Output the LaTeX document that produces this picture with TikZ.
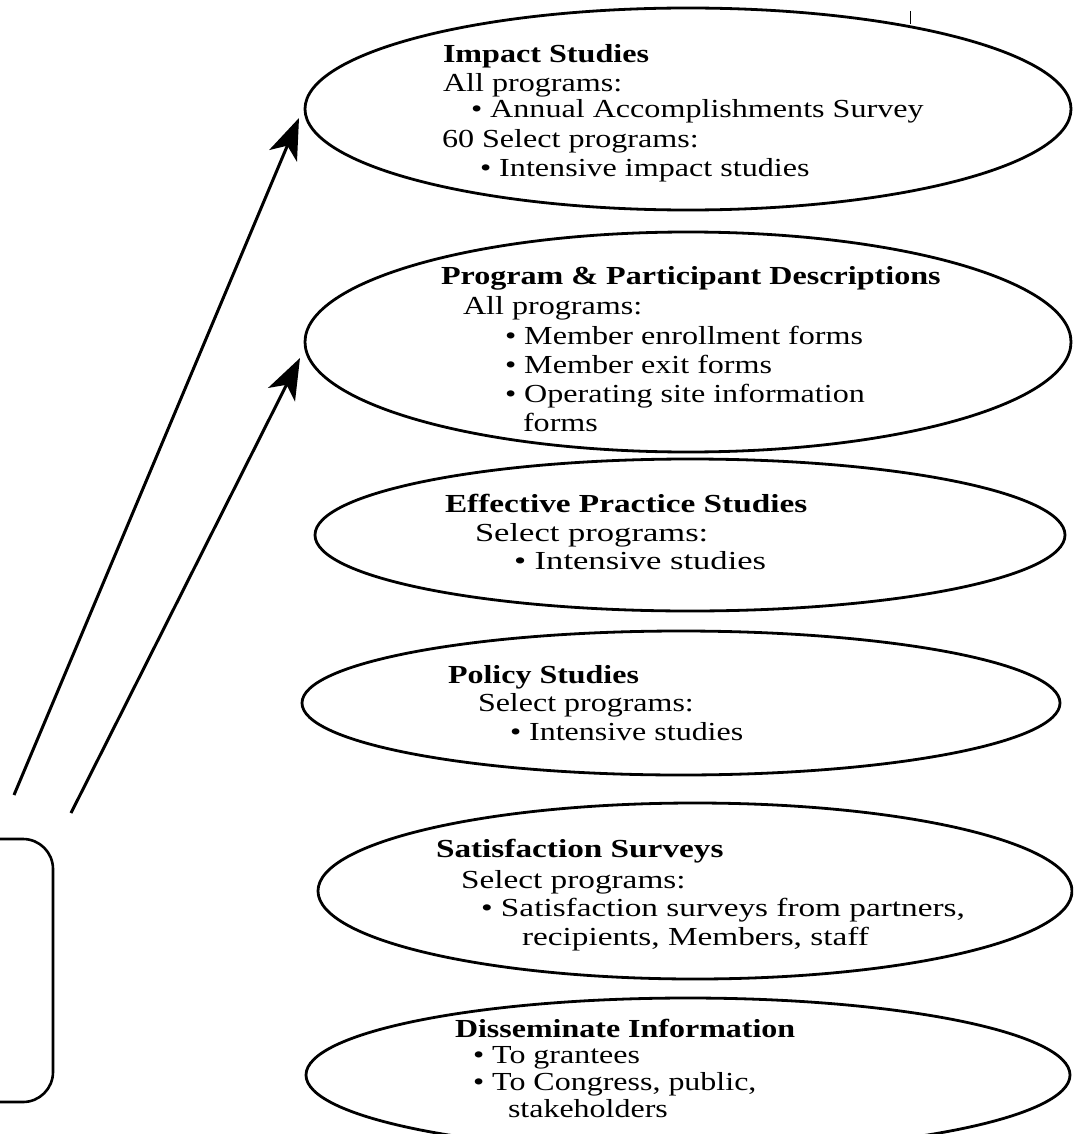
\documentclass[tikz,border=0pt]{standalone}
\usepackage{fontspec}
\setmainfont{Liberation Serif}
\newfontfamily\fa{Liberation Serif}[FakeStretch=1.235]
\newfontfamily\fb{Liberation Serif}[FakeStretch=1.23]
\newfontfamily\fc{Liberation Serif}[FakeStretch=1.28]
\newfontfamily\fd{Liberation Serif}[FakeStretch=1.33]
\usetikzlibrary{shapes.geometric,arrows.meta}
\tikzset{
  ell/.style={draw, ellipse, line width=2.8pt, inner sep=0pt, outer sep=0pt},
  ln/.style={anchor=base west, inner sep=0pt, outer sep=0pt},
  ta/.style={ln, font=\fa\fontsize{26}{30}\selectfont},
  tb/.style={ln, font=\fb\fontsize{26}{30}\selectfont},
  tc/.style={ln, font=\fc\fontsize{26}{30}\selectfont},
  td/.style={ln, font=\fd\fontsize{26}{30}\selectfont},
  arr/.style={line width=3pt, -{Stealth[length=41pt,width=30pt,inset=11pt]}},
}
\begin{document}
\begin{tikzpicture}[x=1pt,y=-1pt]
\useasboundingbox (0,0) rectangle (1073,1134);
\fill[white] (0,0) rectangle (1073,1134);
\clip (0,0) rectangle (1073,1134);

% ellipses
\node[ell, minimum width=766pt, minimum height=202pt] (e1) at (688,109) {};
\node[ell, minimum width=766pt, minimum height=220pt] (e2) at (688,342) {};
\node[ell, minimum width=750pt, minimum height=152pt] (e3) at (690,535) {};
\node[ell, minimum width=758pt, minimum height=144pt] (e4) at (681,703) {};
\node[ell, minimum width=754pt, minimum height=176pt] (e5) at (695,891) {};
\node[ell, minimum width=764pt, minimum height=154pt] (e6) at (688,1075) {};

% left box (cut off)
\node[draw, line width=2.6pt, rounded corners=30pt, minimum width=100pt, minimum height=263pt] (box) at (3,970.5) {};

% arrows
\coordinate (s1) at (14,795);
\coordinate (s2) at (71,813);
\draw[arr] (s1) -- ([shift={(-6,9)}]e1.west);
\draw[arr] (s2) -- ([shift={(-5,16)}]e2.west);

% small scan tick
\draw[line width=1pt] (910,11) -- (910,24);

% E1 text
\node[ta] (a1) at (443,63) {\bfseries Impact Studies};
\node[ta] (a2) at (443,92) {All programs:};
\node[ta] (a3) at (471,118) {• Annual Accomplishments Survey};
\node[ta] (a4) at (442,148) {60 Select programs:};
\node[ta] (a5) at (480,177) {• Intensive impact studies};

% E2 text
\node[ta] (b1) at (441,284) {\bfseries Program \& Participant Descriptions};
\node[ta] (b2) at (463,314) {All programs:};
\node[ta] (b3) at (505,344) {• Member enrollment forms};
\node[ta] (b4) at (505,373) {• Member exit forms};
\node[ta] (b5) at (505,402) {• Operating site information};
\node[ta] (b6) at (523,431) {forms};

% E3 text
\node[tc] (c1) at (445,512) {\bfseries Effective Practice Studies};
\node[td] (c2) at (475,541) {Select programs:};
\node[td] (c3) at (514,569) {• Intensive studies};

% E4 text
\node[tb] (d1) at (448,683) {\bfseries Policy Studies};
\node[tb] (d2) at (478,711) {Select programs:};
\node[tb] (d3) at (510,740) {• Intensive studies};

% E5 text
\node[tc] (f1) at (436,857) {\bfseries Satisfaction Surveys};
\node[tc] (f2) at (461,888) {Select programs:};
\node[tc] (f3) at (481,916) {• Satisfaction surveys from partners,};
\node[tc] (f4) at (522,945) {recipients, Members, staff};

% E6 text
\node[tb] (g1) at (455,1037) {\bfseries Disseminate Information};
\node[tb] (g2) at (473,1063) {• To grantees};
\node[tb] (g3) at (473,1090) {• To Congress, public,};
\node[tb] (g4) at (508,1117) {stakeholders};
\end{tikzpicture}
\end{document}
